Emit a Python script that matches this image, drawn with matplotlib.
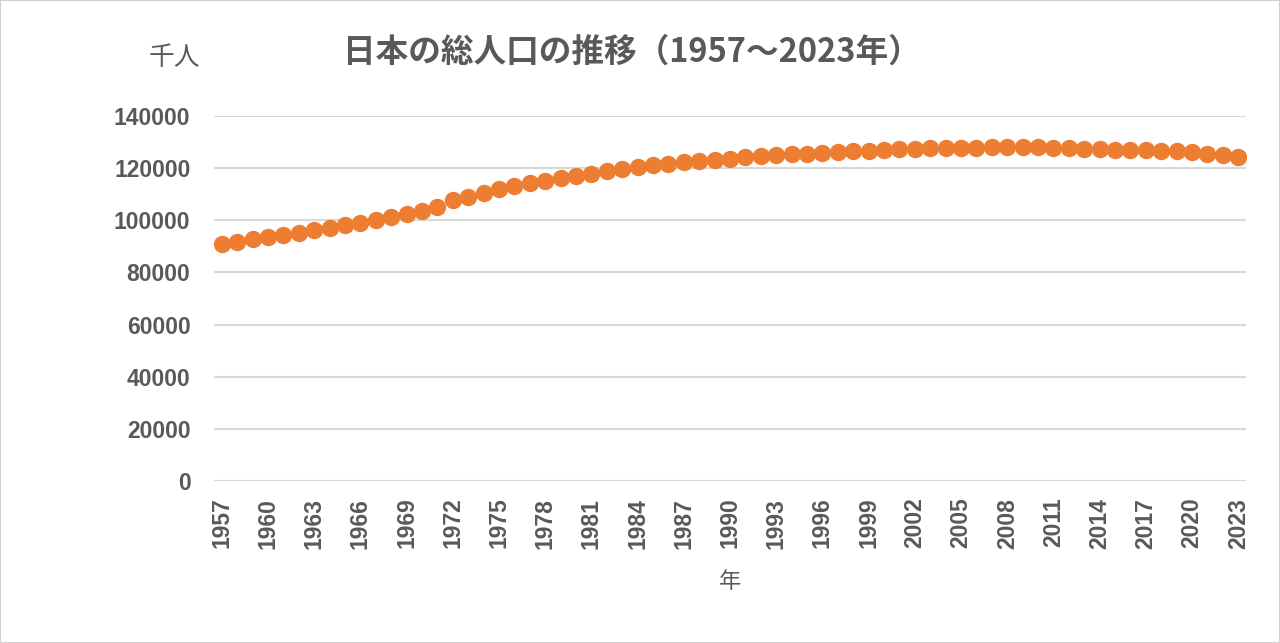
import matplotlib
matplotlib.use("Agg")
import matplotlib.pyplot as plt
from matplotlib.patches import Rectangle

years = list(range(1957, 2024))
population = [
    90928, 91767, 92641, 93419, 94287, 95181, 96156, 97182, 98275, 99036,
    100196, 101331, 102536, 103720, 105145, 107595, 109104, 110573, 111940, 113094,
    114165, 115190, 116155, 117060, 117902, 118728, 119536, 120305, 121049, 121660,
    122239, 122745, 123205, 123611, 124101, 124567, 124938, 125265, 125570, 125859,
    126157, 126472, 126667, 126926, 127316, 127486, 127694, 127787, 127768, 127901,
    128033, 128084, 128032, 128057, 127834, 127593, 127414, 127237, 127095, 127042,
    126919, 126749, 126555, 126146, 125502, 124947, 124352,
]
yticks = [0, 20000, 40000, 60000, 80000, 100000, 120000, 140000]
title = "日本の総人口の推移（1957～2023年）"
ylabel = "千人"
xlabel = "年"

grey = "#595959"
orange = "#ED7D31"
cjk = ["Noto Sans CJK JP", "DejaVu Sans"]

fig = plt.figure(figsize=(12.8, 6.43), dpi=100)
fig.patch.set_facecolor("white")
fig.patches.append(Rectangle((0, 0), 1, 1, transform=fig.transFigure,
                             fill=False, edgecolor="#d0d0d0", linewidth=1.5))

ax = fig.add_axes([214 / 1280, 1 - 481 / 643, (1246 - 214) / 1280, (481 - 116) / 643])
x = list(range(len(years)))
ax.plot(x, population, linestyle="none", marker="o", markersize=11.5,
        color=orange, markeredgecolor=orange, zorder=3)

ax.set_xlim(-0.5, len(years) - 0.5)
ax.set_ylim(0, 140000)
ax.set_yticks(yticks)
ax.set_yticklabels([str(v) for v in yticks], fontfamily="Liberation Sans",
                   fontweight="bold", fontsize=16.5, color=grey)
ax.set_xticks(x[::3])
ax.set_xticklabels([str(y) for y in years[::3]], rotation=90,
                   fontfamily="Liberation Sans", fontweight="bold",
                   fontsize=16.5, color=grey)
ax.tick_params(axis="y", length=0, pad=17)
ax.tick_params(axis="x", length=0, pad=12)
ax.grid(axis="y", color="#d9d9d9", linewidth=1.5, zorder=0)
ax.set_axisbelow(True)
for s in ax.spines.values():
    s.set_visible(False)

fig.text(632 / 1280, 1 - 52 / 643, title, ha="center", va="center",
         fontsize=23.5, fontweight="bold", family=cjk, color=grey)
fig.text(174 / 1280, 1 - 58 / 643, ylabel, ha="center", va="center",
         fontsize=18.5, family=cjk, color=grey)
fig.text(730 / 1280, 1 - 581 / 643, xlabel, ha="center", va="center",
         fontsize=16, family=cjk, color=grey)

fig.savefig("out.png", dpi=100, facecolor="white")
